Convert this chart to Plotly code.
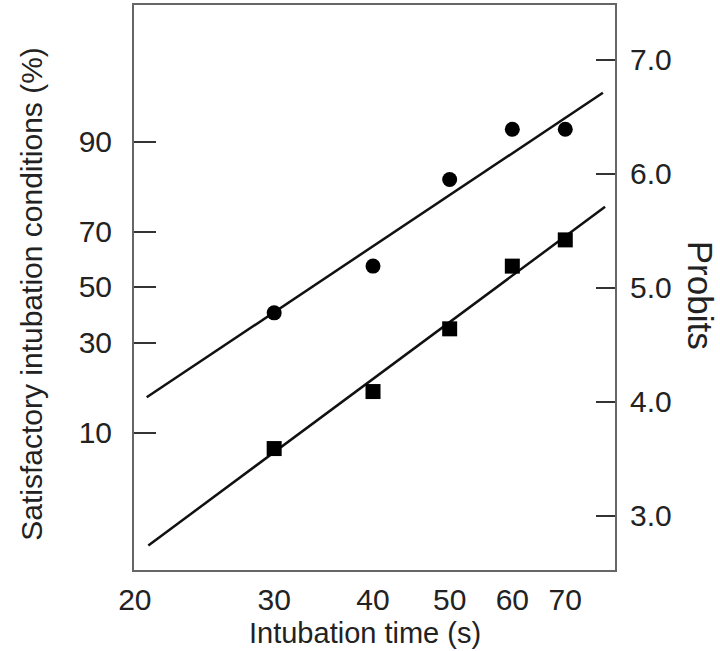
import numpy as np
import plotly.graph_objects as go

# ---- data ----
times = [30, 40, 50, 60, 70]                       # intubation time (s)
circle_probits = [4.78, 5.19, 5.95, 6.39, 6.39]    # upper series (probits)
square_probits = [3.59, 4.09, 4.64, 5.19, 5.42]    # lower series (probits)

upper_fit_x = [20.7, 78.1]
upper_fit_y = [4.04, 6.71]
lower_fit_x = [20.8, 78.6]
lower_fit_y = [2.74, 5.71]

x_ticks = [20, 30, 40, 50, 60, 70]
pct_labels = ["10", "30", "50", "70", "90"]
pct_probits = [3.73, 4.52, 5.01, 5.49, 6.28]
probit_ticks = [3, 4, 5, 6, 7]
probit_labels = ["3.0", "4.0", "5.0", "6.0", "7.0"]

FONT = "Liberation Sans, Arial, Helvetica, sans-serif"
TXT = "#222222"
AX = "#666666"
yrange = [2.525, 7.48]

fig = go.Figure()
fig.add_trace(go.Scatter(x=upper_fit_x, y=upper_fit_y, mode="lines",
                         line=dict(color="#111111", width=2.5), yaxis="y2", showlegend=False))
fig.add_trace(go.Scatter(x=lower_fit_x, y=lower_fit_y, mode="lines",
                         line=dict(color="#111111", width=2.5), yaxis="y2", showlegend=False))
fig.add_trace(go.Scatter(x=times, y=circle_probits, mode="markers",
                         marker=dict(symbol="circle", size=15, color="#000000"),
                         yaxis="y2", showlegend=False))
fig.add_trace(go.Scatter(x=times, y=square_probits, mode="markers",
                         marker=dict(symbol="square", size=15, color="#000000"),
                         yaxis="y2", showlegend=False))
# invisible trace to anchor the left axis
fig.add_trace(go.Scatter(x=[30], y=[5], mode="markers", marker=dict(opacity=0),
                         yaxis="y", showlegend=False, hoverinfo="skip"))

fig.update_layout(
    width=720, height=651,
    margin=dict(l=134, r=105, t=5, b=81, autoexpand=False),
    paper_bgcolor="white", plot_bgcolor="white",
    font=dict(family=FONT, size=30, color=TXT),
    xaxis=dict(type="log", range=[np.log10(19.95), np.log10(80.9)],
               tickvals=x_ticks, ticktext=[str(v) for v in x_ticks],
               ticks="", showgrid=False, zeroline=False, automargin=False,
               showline=True, mirror=True, linecolor=AX, linewidth=2,
               ticklabelstandoff=2, tickfont=dict(size=30, color=TXT)),
    yaxis=dict(range=yrange, tickvals=pct_probits, ticktext=pct_labels,
               ticks="inside", ticklen=22, tickwidth=2, tickcolor="#333333",
               showgrid=False, zeroline=False, automargin=False,
               showline=True, linecolor=AX, linewidth=2,
               ticklabelstandoff=14, tickfont=dict(size=30, color=TXT)),
    yaxis2=dict(range=yrange, overlaying="y", side="right",
                tickvals=probit_ticks, ticktext=probit_labels,
                ticks="inside", ticklen=19, tickwidth=2, tickcolor="#333333",
                showgrid=False, zeroline=False, automargin=False,
                showline=True, linecolor=AX, linewidth=2,
                ticklabelstandoff=7, tickfont=dict(size=30, color=TXT)),
    annotations=[
        dict(text="Intubation time (s)", xref="paper", yref="paper",
             x=0.48, y=-0.1115, xanchor="center", yanchor="middle",
             showarrow=False, font=dict(size=29, color=TXT)),
        dict(text="Satisfactory intubation conditions (%)", xref="paper", yref="paper",
             x=-0.212, y=0.489, xanchor="center", yanchor="middle", textangle=-90,
             showarrow=False, font=dict(size=30, color=TXT)),
        dict(text="Probits", xref="paper", yref="paper",
             x=1.177, y=0.487, xanchor="center", yanchor="middle", textangle=90,
             showarrow=False, font=dict(size=35, color=TXT)),
    ],
)

fig.write_html("out.html",
               config={"displayModeBar": False},
               post_script="document.body.style.margin='0';document.body.style.padding='0';")
